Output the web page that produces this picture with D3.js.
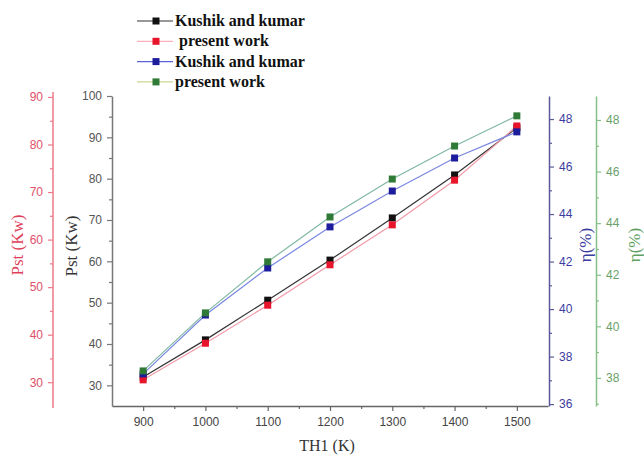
<!DOCTYPE html>
<html><head><meta charset="utf-8">
<script src="https://cdn.jsdelivr.net/npm/d3@7/dist/d3.min.js"></script>
<style>
body{margin:0;background:#fff;}
svg{display:block;}
</style></head>
<body><svg id="c" width="644" height="456"></svg>
<script>
// ---- data ----
const temps = [900, 1000, 1100, 1200, 1300, 1400, 1500];
const kushikPst = [32.0, 41.0, 50.6, 60.3, 70.5, 80.9, 92.3];
const presentPst = [30.5, 38.2, 46.2, 54.7, 63.1, 72.5, 83.9];
const kushikEta = [37.27, 39.75, 41.73, 43.46, 44.97, 46.36, 47.46];
const presentEta = [38.27, 40.52, 42.5, 44.24, 45.71, 46.99, 48.16];
const legendLabels = ["Kushik and kumar", " present work", "Kushik and kumar", "present work"];
const xTicks = [900, 1000, 1100, 1200, 1300, 1400, 1500];
const pstBlackTicks = [30, 40, 50, 60, 70, 80, 90, 100];
const pstRedTicks = [30, 40, 50, 60, 70, 80, 90];
const etaBlueTicks = [36, 38, 40, 42, 44, 46, 48];
const etaGreenTicks = [38, 40, 42, 44, 46, 48];

const svg = d3.select("#c");
const pTop = 96, pBottom = 406, pLeft = 112, pRight = 548;

const x = d3.scaleLinear().domain([850, 1550]).range([pLeft, pRight]);
const yBlack = d3.scaleLinear().domain([25, 100]).range([pBottom, pTop]);
const yRed = d3.scaleLinear().domain([25, 90.2]).range([pBottom, pTop]);
const yBlue = d3.scaleLinear().domain([35.92, 48.97]).range([pBottom, pTop]);
const yGreen = d3.scaleLinear().domain([36.91, 48.93]).range([pBottom, pTop]);

const tickFont = "Liberation Sans, Arial, sans-serif";
const titleFont = "Liberation Serif, Times New Roman, serif";
const fmt = d3.format("d");

function styleAxis(g, color, textColor) {
  g.select(".domain").attr("stroke", color).attr("stroke-width", 1.5);
  g.selectAll(".tick line").attr("stroke", color).attr("stroke-width", 1.2);
  g.selectAll(".tick text").attr("fill", textColor).attr("font-size", 12).attr("font-family", tickFont);
}
function minor(axisFn, scale, vals, tx, ty, color) {
  const g = svg.append("g").attr("transform", `translate(${tx},${ty})`)
    .call(axisFn(scale).tickValues(vals).tickSize(3).tickSizeOuter(0).tickFormat(""));
  g.select(".domain").remove();
  g.selectAll(".tick line").attr("stroke", color).attr("stroke-width", 1.2);
}

// X axis
const gx = svg.append("g").attr("transform", `translate(0,${pBottom})`)
  .call(d3.axisBottom(x).tickValues(xTicks).tickFormat(fmt).tickSize(5).tickSizeOuter(0).tickPadding(6));
styleAxis(gx, "#666", "#444");
minor(d3.axisBottom, x, [950, 1050, 1150, 1250, 1350, 1450], 0, pBottom, "#666");

// black left axis
const gb = svg.append("g").attr("transform", `translate(${pLeft},0)`)
  .call(d3.axisLeft(yBlack).tickValues(pstBlackTicks).tickFormat(fmt).tickSize(5).tickSizeOuter(0).tickPadding(5));
styleAxis(gb, "#777", "#555");
minor(d3.axisLeft, yBlack, [35, 45, 55, 65, 75, 85, 95], pLeft, 0, "#777");

// red left axis
const redX = 53;
const gr = svg.append("g").attr("transform", `translate(${redX},0)`)
  .call(d3.axisLeft(yRed).tickValues(pstRedTicks).tickFormat(fmt).tickSize(5).tickSizeOuter(0).tickPadding(5));
styleAxis(gr, "#ec7a8a", "#e0506a");
minor(d3.axisLeft, yRed, [35, 45, 55, 65, 75, 85], redX, 0, "#ec7a8a");
gr.select(".domain").attr("d", `M0,${pTop - 4}V${pBottom + 2}`);

// blue right axis
const blueX = 549;
const gbl = svg.append("g").attr("transform", `translate(${blueX},0)`)
  .call(d3.axisRight(yBlue).tickValues(etaBlueTicks).tickFormat(fmt).tickSize(5).tickSizeOuter(0).tickPadding(5));
styleAxis(gbl, "#5a5a9a", "#3c3ca0");
minor(d3.axisRight, yBlue, [37, 39, 41, 43, 45, 47], blueX, 0, "#5a5a9a");

// green right axis
const greenX = 596;
const gg = svg.append("g").attr("transform", `translate(${greenX},0)`)
  .call(d3.axisRight(yGreen).tickValues(etaGreenTicks).tickFormat(fmt).tickSize(5).tickSizeOuter(0).tickPadding(5));
styleAxis(gg, "#86c086", "#6a9f6a");
minor(d3.axisRight, yGreen, [37, 39, 41, 43, 45, 47], greenX, 0, "#86c086");

// axis titles
svg.append("text").attr("x", 327).attr("y", 451).attr("text-anchor", "middle")
  .attr("font-family", titleFont).attr("font-size", 16).attr("fill", "#333").text("TH1 (K)");
function vTitle(cx, cy, txt, color) {
  svg.append("text").attr("transform", `translate(${cx},${cy}) rotate(-90)`)
    .attr("text-anchor", "middle").attr("dy", "0.35em")
    .attr("font-family", titleFont).attr("font-size", 17).attr("fill", color).text(txt);
}
vTitle(17, 245, "Pst (Kw)", "#e0405a");
vTitle(71, 246, "Pst (Kw)", "#333");
vTitle(585, 245, "η(%)", "#3c3ca0");
vTitle(634, 245, "η(%)", "#5f9f5f");

// series
const series = [
  {vals: kushikPst, y: yBlack, line: "#333", mark: "#111"},
  {vals: presentPst, y: yRed, line: "#f29aa8", mark: "#e8142c"},
  {vals: kushikEta, y: yBlue, line: "#7a86e0", mark: "#1c1c9c"},
  {vals: presentEta, y: yGreen, line: "#7fb8a0", mark: "#2f7a36"}
];
series.forEach(s => {
  const pts = temps.map((t, i) => [x(t), s.y(s.vals[i])]);
  svg.append("path").attr("d", d3.line()(pts)).attr("fill", "none")
    .attr("stroke", s.line).attr("stroke-width", 1.2);
});
series.forEach(s => {
  svg.selectAll(null).data(temps).enter().append("rect")
    .attr("x", (t) => x(t) - 3.5).attr("y", (t, i) => s.y(s.vals[i]) - 3.5)
    .attr("width", 7).attr("height", 7).attr("fill", s.mark);
});

// legend
const legLine = ["#333", "#f6b0bc", "#5a64d8", "#c8d890"];
legendLabels.forEach((lab, i) => {
  const cy = 21 + i * 20.3;
  svg.append("line").attr("x1", 137).attr("x2", 173).attr("y1", cy).attr("y2", cy)
    .attr("stroke", legLine[i]).attr("stroke-width", 1.2);
  svg.append("rect").attr("x", 152.5).attr("y", cy - 3.5).attr("width", 7).attr("height", 7)
    .attr("fill", series[i].mark);
  svg.append("text").attr("x", 175).attr("y", cy + 5).attr("xml:space", "preserve")
    .attr("font-family", titleFont).attr("font-weight", "bold").attr("font-size", 16)
    .attr("fill", "#111").text(lab);
});
</script></body></html>
